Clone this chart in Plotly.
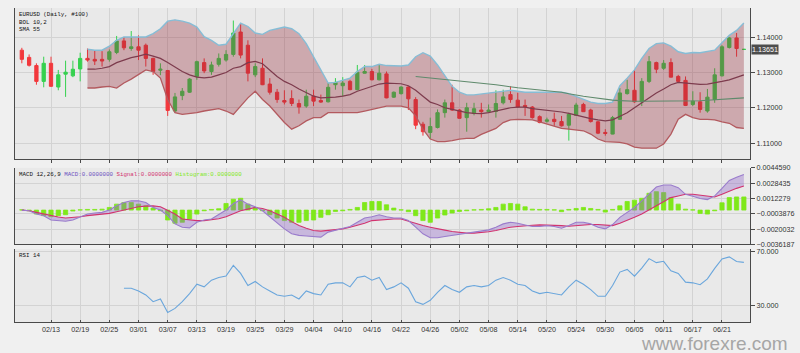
import plotly.graph_objects as go
import pandas as pd

# ---------------- data ----------------
DATES = list(pd.bdate_range("2019-02-07", "2019-06-26").strftime("%m/%d"))
TICK_LABELS = ["02/13", "02/19", "02/25", "03/01", "03/07", "03/13", "03/19", "03/25",
               "03/29", "04/04", "04/10", "04/16", "04/22", "04/26", "05/02", "05/08",
               "05/14", "05/20", "05/24", "05/30", "06/05", "06/11", "06/17", "06/21"]

OPEN = [1.13628, 1.13424, 1.13193, 1.12746, 1.13257, 1.12587, 1.12950, 1.12903, 1.13098, 1.13396,
        1.13369, 1.13369, 1.13369, 1.13564, 1.13890, 1.13675, 1.13723, 1.13768, 1.13396, 1.13062,
        1.13053, 1.11909, 1.12345, 1.12440, 1.12886, 1.13277, 1.13025, 1.13229, 1.13349, 1.13508,
        1.14141, 1.13768, 1.12931, 1.13117, 1.12671, 1.12440, 1.12205, 1.12261, 1.12121, 1.12049,
        1.12328, 1.12205, 1.12169, 1.12652, 1.12624, 1.12746, 1.12512, 1.12978, 1.13025, 1.12791,
        1.12958, 1.12300, 1.12400, 1.12587, 1.12233, 1.11536, 1.11304, 1.11443, 1.11862, 1.12141,
        1.11937, 1.11722, 1.11842, 1.11937, 1.11890, 1.11898, 1.12141, 1.12373, 1.12216, 1.12066,
        1.12021, 1.11750, 1.11619, 1.11675, 1.11611, 1.11508, 1.11787, 1.12094, 1.11937, 1.11603,
        1.11304, 1.11257, 1.11675, 1.12400, 1.12495, 1.12169, 1.12746, 1.13277, 1.13117, 1.13277,
        1.12886, 1.12774, 1.12094, 1.12169, 1.11909, 1.12233, 1.12903, 1.13703, 1.13974, 1.13648]
HIGH = [1.13695, 1.13508, 1.13257, 1.13444, 1.13444, 1.13070, 1.13332, 1.13332, 1.13556, 1.13675,
        1.13628, 1.13600, 1.13648, 1.14030, 1.14002, 1.14169, 1.14047, 1.13815, 1.13416, 1.13257,
        1.13070, 1.12420, 1.12559, 1.12838, 1.13332, 1.13396, 1.13304, 1.13536, 1.13628, 1.14466,
        1.14373, 1.13907, 1.13257, 1.13396, 1.12838, 1.12532, 1.12495, 1.12495, 1.12233, 1.12512,
        1.12512, 1.12373, 1.12699, 1.12838, 1.12866, 1.12791, 1.13210, 1.13210, 1.13098, 1.13229,
        1.13025, 1.12460, 1.12607, 1.12607, 1.12300, 1.11603, 1.11722, 1.11954, 1.12233, 1.12652,
        1.11960, 1.12141, 1.12141, 1.12141, 1.12094, 1.12495, 1.12512, 1.12607, 1.12420, 1.12233,
        1.12049, 1.11787, 1.11722, 1.11862, 1.11770, 1.11862, 1.12141, 1.12141, 1.11974, 1.11631,
        1.11396, 1.11770, 1.12559, 1.12791, 1.13070, 1.12838, 1.13461, 1.13304, 1.13349, 1.13396,
        1.12931, 1.12886, 1.12467, 1.12440, 1.12532, 1.13117, 1.13768, 1.14002, 1.14114, 1.13660]
LOW = [1.13257, 1.13165, 1.12652, 1.12579, 1.12590, 1.12495, 1.12308, 1.12866, 1.12746, 1.13304,
       1.13210, 1.13165, 1.13304, 1.13516, 1.13628, 1.13611, 1.13349, 1.13165, 1.12931, 1.12922,
       1.11770, 1.11862, 1.12216, 1.12420, 1.12791, 1.12978, 1.12931, 1.13165, 1.13304, 1.13444,
       1.13396, 1.12746, 1.12866, 1.12640, 1.12373, 1.12141, 1.12094, 1.12049, 1.11834, 1.12001,
       1.12049, 1.12141, 1.12150, 1.12512, 1.12328, 1.12495, 1.12495, 1.12970, 1.12774, 1.12774,
       1.12270, 1.12280, 1.12373, 1.11937, 1.11396, 1.11212, 1.11117, 1.11416, 1.11722, 1.11909,
       1.11695, 1.11324, 1.11787, 1.11722, 1.11862, 1.11722, 1.12094, 1.12141, 1.12001, 1.11770,
       1.11695, 1.11563, 1.11583, 1.11491, 1.11471, 1.11072, 1.11770, 1.11882, 1.11583, 1.11257,
       1.11212, 1.11250, 1.11658, 1.12373, 1.12141, 1.12049, 1.12699, 1.12978, 1.13070, 1.12860,
       1.12699, 1.12049, 1.12049, 1.11862, 1.11862, 1.12141, 1.12886, 1.13675, 1.13444, 1.13640]
CLOSE = [1.13369, 1.13201, 1.12746, 1.13257, 1.12607, 1.12931, 1.13006, 1.13090, 1.13396, 1.13349,
         1.13321, 1.13321, 1.13583, 1.13890, 1.13695, 1.13723, 1.13628, 1.13396, 1.13025, 1.13090,
         1.11926, 1.12308, 1.12467, 1.12811, 1.13304, 1.13042, 1.13210, 1.13396, 1.13508, 1.14114,
         1.13489, 1.12978, 1.13165, 1.12652, 1.12440, 1.12233, 1.12161, 1.12121, 1.12021, 1.12328,
         1.12188, 1.12161, 1.12579, 1.12719, 1.12699, 1.12512, 1.13006, 1.13025, 1.12791, 1.12978,
         1.12280, 1.12440, 1.12587, 1.12253, 1.11508, 1.11324, 1.11471, 1.11862, 1.12141, 1.11937,
         1.11703, 1.12001, 1.11974, 1.11890, 1.11937, 1.12121, 1.12308, 1.12233, 1.12021, 1.12029,
         1.11722, 1.11583, 1.11658, 1.11611, 1.11491, 1.11815, 1.12077, 1.11890, 1.11611, 1.11284,
         1.11276, 1.11722, 1.12420, 1.12512, 1.12169, 1.12746, 1.13304, 1.13090, 1.13257, 1.12866,
         1.12746, 1.12066, 1.12188, 1.11954, 1.12300, 1.12931, 1.13723, 1.13974, 1.13675, 1.13652]

BB_START = 9
BB_UPPER = [1.13656, 1.13628, 1.13628, 1.13740, 1.13907, 1.14002, 1.14002, 1.14002, 1.14002, 1.14094,
            1.14234, 1.14448, 1.14485, 1.14448, 1.14393, 1.14281, 1.14010, 1.13907, 1.13768, 1.13795,
            1.14094, 1.14393, 1.14298, 1.14114, 1.14075, 1.14186, 1.14234, 1.14281, 1.14234, 1.14094,
            1.13815, 1.13444, 1.13070, 1.12699, 1.12719, 1.12774, 1.12838, 1.13025, 1.13165, 1.13165,
            1.13229, 1.13193, 1.13182, 1.13182, 1.13210, 1.13444, 1.13556, 1.13461, 1.13210, 1.12903,
            1.12607, 1.12440, 1.12364, 1.12364, 1.12392, 1.12420, 1.12448, 1.12467, 1.12495, 1.12467,
            1.12440, 1.12440, 1.12440, 1.12440, 1.12440, 1.12440, 1.12401, 1.12328, 1.12233, 1.12161,
            1.12121, 1.12121, 1.12161, 1.12624, 1.12838, 1.13070, 1.13396, 1.13675, 1.13815, 1.13835,
            1.13740, 1.13583, 1.13536, 1.13564, 1.13556, 1.13583, 1.13628, 1.13835, 1.14047, 1.14186,
            1.14393]
BB_MID = [1.13090, 1.13090, 1.13117, 1.13165, 1.13277, 1.13349, 1.13416, 1.13461, 1.13516, 1.13461,
          1.13396, 1.13277, 1.13145, 1.13025, 1.12931, 1.12866, 1.12847, 1.12866, 1.12931, 1.12998,
          1.13117, 1.13165, 1.13277, 1.13313, 1.13243, 1.13070, 1.12886, 1.12746, 1.12652, 1.12532,
          1.12440, 1.12328, 1.12280, 1.12280, 1.12300, 1.12328, 1.12373, 1.12467, 1.12532, 1.12607,
          1.12671, 1.12699, 1.12699, 1.12680, 1.12624, 1.12495, 1.12328, 1.12161, 1.12094, 1.12001,
          1.11954, 1.11909, 1.11862, 1.11843, 1.11834, 1.11862, 1.11909, 1.11954, 1.12001, 1.12021,
          1.12021, 1.11974, 1.11954, 1.11937, 1.11909, 1.11881, 1.11843, 1.11787, 1.11750, 1.11695,
          1.11658, 1.11631, 1.11658, 1.11770, 1.11862, 1.12001, 1.12141, 1.12280, 1.12420, 1.12532,
          1.12652, 1.12719, 1.12699, 1.12680, 1.12663, 1.12671, 1.12699, 1.12746, 1.12791, 1.12866,
          1.12931]
BB_LOWER = [1.12559, 1.12559, 1.12587, 1.12607, 1.12559, 1.12699, 1.12811, 1.12931, 1.13070, 1.13025,
            1.12838, 1.12233, 1.11862, 1.11815, 1.11834, 1.11862, 1.11909, 1.11937, 1.11974, 1.11909,
            1.11815, 1.12049, 1.12280, 1.12467, 1.12233, 1.12049, 1.11815, 1.11583, 1.11396, 1.11491,
            1.11631, 1.11722, 1.11722, 1.11862, 1.11862, 1.11862, 1.11843, 1.11862, 1.11909, 1.11954,
            1.12001, 1.12049, 1.12049, 1.12049, 1.12001, 1.11770, 1.11396, 1.11117, 1.11044, 1.11044,
            1.11072, 1.11117, 1.11137, 1.11137, 1.11248, 1.11332, 1.11416, 1.11583, 1.11658, 1.11675,
            1.11675, 1.11658, 1.11603, 1.11536, 1.11471, 1.11416, 1.11396, 1.11379, 1.11351, 1.11257,
            1.11117, 1.11044, 1.11025, 1.11025, 1.10978, 1.10886, 1.10858, 1.10858, 1.10858, 1.10978,
            1.11257, 1.11675, 1.11815, 1.11722, 1.11675, 1.11675, 1.11658, 1.11603, 1.11563, 1.11443,
            1.11416]

SMA_START = 54
SMA55 = [1.12886, 1.12866, 1.12847, 1.12825, 1.12805, 1.12783, 1.12763, 1.12741, 1.12721, 1.12699,
         1.12671, 1.12649, 1.12621, 1.12587, 1.12565, 1.12545, 1.12526, 1.12509, 1.12495, 1.12470,
         1.12440, 1.12398, 1.12356, 1.12328, 1.12300, 1.12266, 1.12239, 1.12216, 1.12202, 1.12188,
         1.12183, 1.12183, 1.12183, 1.12183, 1.12183, 1.12183, 1.12183, 1.12183, 1.12188, 1.12197,
         1.12211, 1.12225, 1.12233, 1.12244, 1.12262, 1.12280]

MACD = [0.0, -0.00007, -0.00042, -0.00059, -0.00105, -0.00111, -0.00118, -0.00105, -0.00070, -0.00042,
        -0.00031, -0.00024, 0.0, 0.00045, 0.00080, 0.00098, 0.00098, 0.00080, 0.00028, 0.0,
        -0.00059, -0.00146, -0.00181, -0.00188, -0.00129, -0.00105, -0.00094, -0.00049, 0.0, 0.00070,
        0.00108, 0.00063, 0.00035, -0.00007, -0.00070, -0.00139, -0.00199, -0.00251, -0.00268, -0.00275,
        -0.00279, -0.00286, -0.00233, -0.00216, -0.00199, -0.00174, -0.00129, -0.00084, -0.00070, -0.00049,
        -0.00070, -0.00084, -0.00084, -0.00111, -0.00181, -0.00251, -0.00293, -0.00293, -0.00279, -0.00268,
        -0.00258, -0.00244, -0.00233, -0.00223, -0.00209, -0.00181, -0.00146, -0.00129, -0.00139, -0.00157,
        -0.00174, -0.00174, -0.00164, -0.00174, -0.00192, -0.00164, -0.00129, -0.00129, -0.00146, -0.00181,
        -0.00199, -0.00153, -0.00077, -0.00024, 0.00028, 0.00098, 0.00174, 0.00244, 0.00265, 0.00265,
        0.00237, 0.00167, 0.00146, 0.00122, 0.00111, 0.00150, 0.00230, 0.00314, 0.00348, 0.00376]
SIGNAL = [0.0, -0.00007, -0.00024, -0.00042, -0.00059, -0.00073, -0.00084, -0.00080, -0.00070, -0.00059,
          -0.00049, -0.00042, -0.00035, -0.00017, 0.0, 0.00017, 0.00035, 0.00042, 0.00045, 0.00035,
          0.0, -0.00042, -0.00094, -0.00105, -0.00111, -0.00111, -0.00105, -0.00091, -0.00070, -0.00035,
          -0.00007, 0.00010, 0.00028, 0.00017, -0.00007, -0.00042, -0.00077, -0.00122, -0.00164, -0.00192,
          -0.00216, -0.00223, -0.00216, -0.00209, -0.00199, -0.00181, -0.00164, -0.00139, -0.00111, -0.00105,
          -0.00094, -0.00094, -0.00094, -0.00118, -0.00139, -0.00164, -0.00181, -0.00199, -0.00212, -0.00226,
          -0.00237, -0.00244, -0.00244, -0.00240, -0.00230, -0.00216, -0.00199, -0.00181, -0.00174, -0.00164,
          -0.00160, -0.00157, -0.00157, -0.00160, -0.00164, -0.00171, -0.00164, -0.00153, -0.00153, -0.00153,
          -0.00157, -0.00164, -0.00139, -0.00111, -0.00077, -0.00042, 0.0, 0.00045, 0.00091, 0.00132,
          0.00150, 0.00167, 0.00167, 0.00160, 0.00146, 0.00139, 0.00167, 0.00202, 0.00230, 0.00254]
HIST = [0.00003, -0.00007, -0.00042, -0.00059, -0.00070, -0.00059, -0.00049, -0.00010, 0.00003, 0.00007,
        0.00007, 0.00010, 0.00028, 0.00063, 0.00080, 0.00080, 0.00063, 0.00045, 0.00021, -0.00007,
        -0.00105, -0.00139, -0.00129, -0.00094, -0.00042, -0.00007, 0.00007, 0.00014, 0.00070, 0.00115,
        0.00125, 0.00063, 0.00028, -0.00007, -0.00049, -0.00084, -0.00111, -0.00129, -0.00129, -0.00111,
        -0.00105, -0.00077, -0.00049, -0.00014, -0.00007, 0.00007, 0.00028, 0.00080, 0.00091, 0.00091,
        0.00056, 0.00021, 0.00003, -0.00017, -0.00059, -0.00111, -0.00129, -0.00084, -0.00052, -0.00031,
        -0.00014, -0.00007, 0.00003, 0.00007, 0.00014, 0.00028, 0.00063, 0.00070, 0.00063, 0.00035,
        0.00010, 0.00007, 0.00007, 0.00003, -0.00017, 0.00007, 0.00017, 0.00028, 0.00017, 0.00007,
        -0.00021, 0.00007, 0.00045, 0.00091, 0.00105, 0.00125, 0.00178, 0.00195, 0.00185, 0.00132,
        0.00063, 0.00010, 0.00003, -0.00035, -0.00042, -0.00007, 0.00077, 0.00132, 0.00139, 0.00139]

RSI_START = 14
RSI14 = [43, 43, 41, 38, 33, 35, 25, 28, 33, 39,
         46, 44, 49, 51, 52, 60, 54, 45, 48, 44,
         41, 38, 37, 38, 35, 41, 39, 38, 46, 47,
         47, 44, 51, 52, 49, 51, 42, 44, 47, 43,
         33, 31, 34, 40, 45, 42, 40, 44, 45, 44,
         45, 49, 51, 49, 46, 45, 41, 39, 40, 39,
         38, 44, 49, 46, 42, 37, 37, 45, 55, 57,
         52, 58, 65, 62, 63, 56, 54, 47.5, 47, 45.6,
         50, 57.8, 64.7, 66.3, 62.9, 62.2]

PRICE_TICKS = [1.11, 1.12, 1.13, 1.14]
MACD_TICKS = [0.004459, 0.0028435, 0.0012279, -0.0003876, -0.0020032, -0.0036187]
RSI_TICKS = [30, 70]
LAST_PRICE = 1.13651

# ---------------- styling ----------------
BG = "#e9e9e9"
PAPER = "#f0f0f0"
GRID = "#d3d3d3"
AXIS = "#4a4a4a"
TICKFONT = dict(family="Liberation Sans", size=7.2, color="#333333")
GREEN = "#35d14f"
RED = "#f2383c"

X = list(range(len(DATES)))
TICK_POS = [DATES.index(t) for t in TICK_LABELS]

fig = go.Figure()

# Bollinger band area
bb_x = X[BB_START:]
fig.add_trace(go.Scatter(x=bb_x, y=BB_UPPER, mode="lines", line=dict(color="#86bdd6", width=1.4),
                         hoverinfo="skip", showlegend=False, xaxis="x", yaxis="y"))
fig.add_trace(go.Scatter(x=bb_x, y=BB_LOWER, mode="lines", line=dict(color="#b35a5f", width=1.3),
                         fill="tonexty", fillcolor="rgba(150,40,55,0.33)",
                         hoverinfo="skip", showlegend=False, xaxis="x", yaxis="y"))
fig.add_trace(go.Scatter(x=bb_x, y=BB_MID, mode="lines", line=dict(color="#7d3b4d", width=1.2),
                         hoverinfo="skip", showlegend=False, xaxis="x", yaxis="y"))
fig.add_trace(go.Scatter(x=X[SMA_START:], y=SMA55, mode="lines", line=dict(color="#5f8a6c", width=1.1),
                         hoverinfo="skip", showlegend=False, xaxis="x", yaxis="y"))

# candles
fig.add_trace(go.Candlestick(x=X, open=OPEN, high=HIGH, low=LOW, close=CLOSE, text=DATES,
                             increasing=dict(line=dict(color=GREEN, width=1), fillcolor=GREEN),
                             decreasing=dict(line=dict(color=RED, width=1), fillcolor=RED),
                             whiskerwidth=0, showlegend=False, xaxis="x", yaxis="y"))

# MACD panel
fig.add_trace(go.Bar(x=X, y=HIST, marker=dict(color="#7fe81a", line=dict(color="#7fe81a", width=0.8)),
                     width=0.58, showlegend=False, xaxis="x2", yaxis="y2"))
fig.add_trace(go.Scatter(x=X, y=SIGNAL, mode="lines", line=dict(color="#d2336e", width=1.1),
                         showlegend=False, xaxis="x2", yaxis="y2"))
fig.add_trace(go.Scatter(x=X, y=MACD, mode="lines", line=dict(color="#9a7ccc", width=1.1),
                         fill="tonexty", fillcolor="rgba(140,95,200,0.35)",
                         showlegend=False, xaxis="x2", yaxis="y2"))

# RSI panel
fig.add_trace(go.Scatter(x=X[RSI_START:], y=RSI14, mode="lines", line=dict(color="#6aa6dc", width=1.1),
                         showlegend=False, xaxis="x3", yaxis="y3"))

XR = [-0.936, 99.84]
xcommon = dict(range=XR, tickmode="array", tickvals=TICK_POS, ticktext=TICK_LABELS,
               showgrid=True, gridcolor=GRID, gridwidth=1, ticks="outside", ticklen=3, tickcolor=AXIS,
               showline=True, linecolor=AXIS, linewidth=1, zeroline=False, tickfont=TICKFONT,
               rangeslider=dict(visible=False))
ycommon = dict(side="right", ticks="outside", ticklen=4, tickcolor=AXIS, showline=True, mirror=True,
               linecolor=AXIS, linewidth=1, showgrid=True, gridcolor=GRID, gridwidth=1,
               zeroline=False, tickfont=TICKFONT, tickmode="array")

fig.update_layout(
    width=800, height=353,
    margin=dict(l=15, r=50, t=4, b=31),
    paper_bgcolor=PAPER, plot_bgcolor=BG,
    showlegend=False, boxgap=0.36, bargap=0.45,
    xaxis=dict(xcommon, anchor="y", showticklabels=False),
    xaxis2=dict(xcommon, anchor="y2", matches="x", showticklabels=False),
    xaxis3=dict(xcommon, anchor="y3", matches="x", showticklabels=True, ticks="inside", ticklen=2),
    yaxis=dict(ycommon, domain=[0.5189, 1.0], range=[1.10551, 1.1482], tickvals=PRICE_TICKS,
               tickformat=".5f", anchor="x"),
    yaxis2=dict(ycommon, domain=[0.2475, 0.4906], range=[MACD_TICKS[-1], MACD_TICKS[0]],
                tickvals=MACD_TICKS, tickformat=".7f", anchor="x2"),
    yaxis3=dict(ycommon, domain=[0.0, 0.2327], range=[17.9, 72.2], tickvals=RSI_TICKS,
                tickformat=".3f", anchor="x3"),
)

mono = "Liberation Mono"
LEG = dict(family=mono, size=5.8, color="#111111")
fig.add_annotation(text="EURUSD (Daily, #100)<br>BOL 10,2<br>SMA 55", xref="paper", yref="paper",
                   x=0.003, y=0.996, xanchor="left", yanchor="top", align="left", showarrow=False,
                   font=LEG)
fig.add_annotation(text=("MACD 12,26,9 <span style='color:#6a4fc0'>MACD:0.0000000</span> "
                         "<span style='color:#d2336e'>Signal:0.0000000</span> "
                         "<span style='color:#7fe81a'>Histogram:0.0000000</span>"),
                   xref="paper", yref="paper", x=0.003, y=0.4860, xanchor="left", yanchor="top",
                   showarrow=False, font=LEG)
fig.add_annotation(text="RSI 14", xref="paper", yref="paper", x=0.003, y=0.2285, xanchor="left",
                   yanchor="top", showarrow=False, font=LEG)
fig.add_annotation(text=f"{LAST_PRICE:.5f}", xref="paper", yref="y", x=1.0014, y=LAST_PRICE,
                   xanchor="left", yanchor="middle", showarrow=False, bgcolor="#4d4d4d", borderpad=0,
                   font=dict(family="Liberation Sans", size=7.2, color="#ffffff"))
fig.add_annotation(text="www.forexre.com", xref="paper", yref="paper", x=1.0544, y=-0.067,
                   xanchor="right", yanchor="middle", showarrow=False,
                   font=dict(family="Liberation Sans", size=19, color="#a6a6a6"))

fig.write_html("out.html")
